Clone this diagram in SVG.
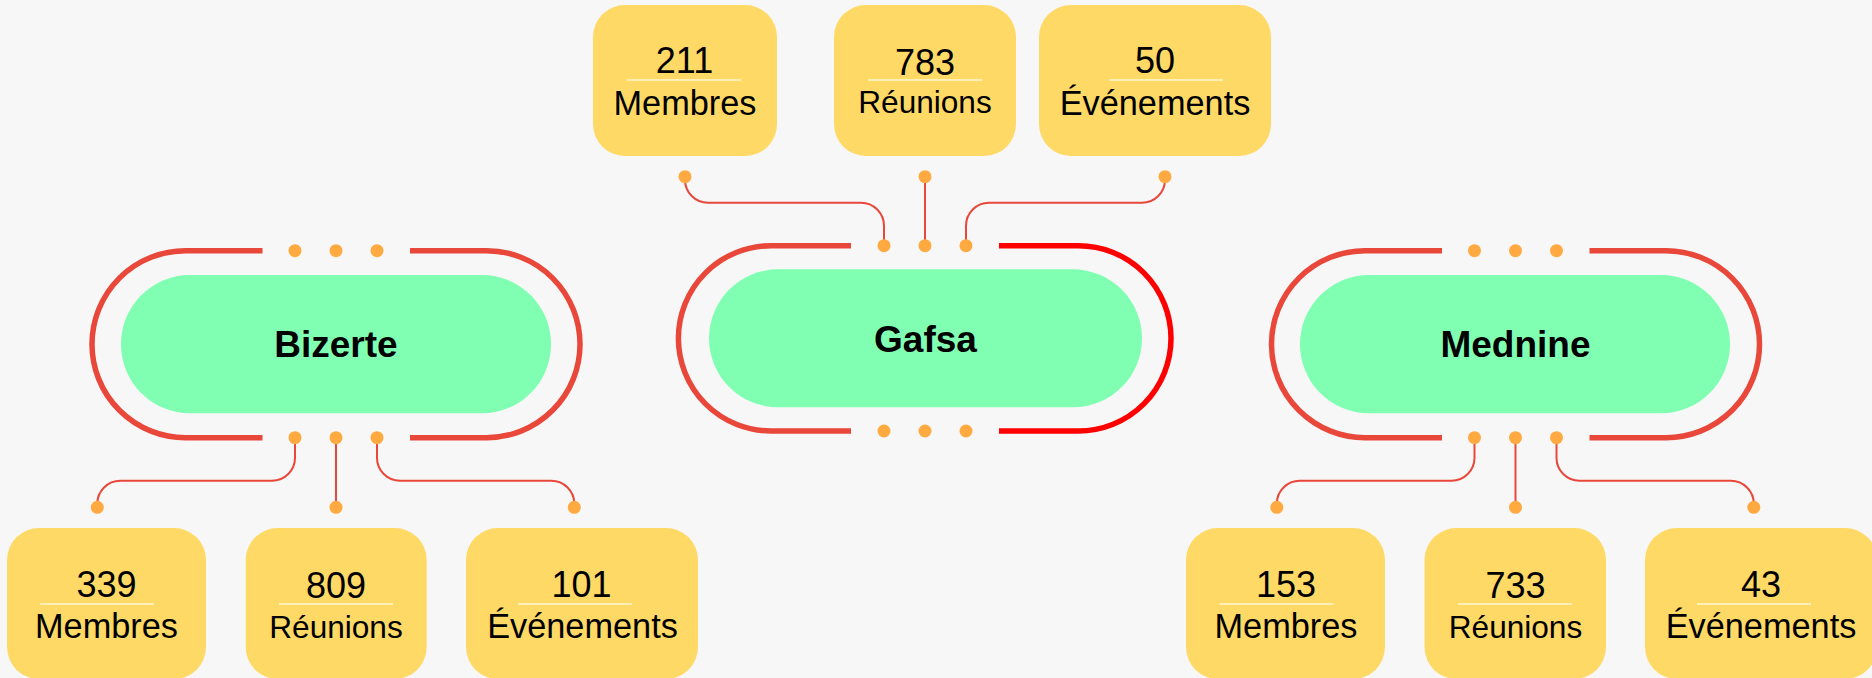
<svg xmlns="http://www.w3.org/2000/svg" width="1872" height="678" viewBox="0 0 1872 678">
<defs>
<style>
.bg{fill:#f7f7f7}
.track{fill:none;stroke:#e8473a;stroke-width:5.5;stroke-linecap:butt}
.track-hot{fill:none;stroke:#ff0000;stroke-width:5.5;stroke-linecap:butt}
.pill{fill:#80ffb3}
.dot{fill:#ffaa40}
.conn{fill:none;stroke:#e8473a;stroke-width:2}
.box{fill:#ffd966}
.sep{stroke:#fff0b8;stroke-width:2}
.city{font-family:"Liberation Sans",Arial,sans-serif;font-weight:bold;font-size:37px;fill:#000;text-anchor:middle}
.num{font-family:"Liberation Sans",Arial,sans-serif;font-size:36px;fill:#000;text-anchor:middle}
.lbl{font-family:"Liberation Sans",Arial,sans-serif;font-size:34.3px;fill:#000;text-anchor:middle}
.lbl-r{font-family:"Liberation Sans",Arial,sans-serif;font-size:31.6px;fill:#000;text-anchor:middle}
</style>
</defs>
<rect class="bg" x="0" y="0" width="1872" height="678"/>

<g id="connectors">
  <path class="conn" d="M685,176.7 V179.7 A23 23 0 0 0 708,202.7 H861 A23 23 0 0 1 884,225.7 V245.7"/>
  <path class="conn" d="M925,176.7 V245.7"/>
  <path class="conn" d="M966,245.7 V225.7 A23 23 0 0 1 989,202.7 H1142 A23 23 0 0 0 1165,179.7 V176.7"/>
  <path class="conn" d="M295,437.7 V457.7 A23 23 0 0 1 272,480.7 H120.3 A23 23 0 0 0 97.3,503.7 V507.3"/>
  <path class="conn" d="M336,437.7 V507.3"/>
  <path class="conn" d="M377,437.7 V457.7 A23 23 0 0 0 400,480.7 H551.3 A23 23 0 0 1 574.3,503.7 V507.3"/>
  <path class="conn" d="M1474.5,437.7 V457.7 A23 23 0 0 1 1451.5,480.7 H1299.8 A23 23 0 0 0 1276.8,503.7 V507.3"/>
  <path class="conn" d="M1515.5,437.7 V507.3"/>
  <path class="conn" d="M1556.5,437.7 V457.7 A23 23 0 0 0 1579.5,480.7 H1730.8 A23 23 0 0 1 1753.8,503.7 V507.3"/>
</g>

<g id="node-bizerte">
  <path class="track" d="M262.5,250.7 H185.5 A93.5 93.5 0 0 0 185.5,437.7 H262.5"/>
  <path class="track" d="M410,250.7 H486.5 A93.5 93.5 0 0 1 486.5,437.7 H410"/>
  <rect class="pill" x="121" y="275" width="430" height="138.3" rx="69" ry="69"/>
  <circle class="dot" cx="295" cy="250.7" r="6.5"/>
  <circle class="dot" cx="336" cy="250.7" r="6.5"/>
  <circle class="dot" cx="377" cy="250.7" r="6.5"/>
  <circle class="dot" cx="295" cy="437.7" r="6.5"/>
  <circle class="dot" cx="336" cy="437.7" r="6.5"/>
  <circle class="dot" cx="377" cy="437.7" r="6.5"/>
  <text class="city" x="336" y="357.3">Bizerte</text>
</g>

<g id="node-gafsa">
  <path class="track" d="M851,245.7 H771 A92.65 92.65 0 0 0 771,431 H851"/>
  <path class="track-hot" d="M999,245.7 H1078.4 A92.65 92.65 0 0 1 1078.4,431 H999"/>
  <rect class="pill" x="709" y="269.3" width="433" height="138" rx="69" ry="69"/>
  <circle class="dot" cx="884" cy="245.7" r="6.5"/>
  <circle class="dot" cx="925" cy="245.7" r="6.5"/>
  <circle class="dot" cx="966" cy="245.7" r="6.5"/>
  <circle class="dot" cx="884" cy="431" r="6.5"/>
  <circle class="dot" cx="925" cy="431" r="6.5"/>
  <circle class="dot" cx="966" cy="431" r="6.5"/>
  <text class="city" x="925.5" y="351.7">Gafsa</text>
</g>

<g id="node-mednine">
  <path class="track" d="M1442,250.7 H1365 A93.5 93.5 0 0 0 1365,437.7 H1442"/>
  <path class="track" d="M1589.5,250.7 H1666 A93.5 93.5 0 0 1 1666,437.7 H1589.5"/>
  <rect class="pill" x="1300" y="275" width="430" height="138.3" rx="69" ry="69"/>
  <circle class="dot" cx="1474.5" cy="250.7" r="6.5"/>
  <circle class="dot" cx="1515.5" cy="250.7" r="6.5"/>
  <circle class="dot" cx="1556.5" cy="250.7" r="6.5"/>
  <circle class="dot" cx="1474.5" cy="437.7" r="6.5"/>
  <circle class="dot" cx="1515.5" cy="437.7" r="6.5"/>
  <circle class="dot" cx="1556.5" cy="437.7" r="6.5"/>
  <text class="city" x="1515.5" y="357.3">Mednine</text>
</g>

<g id="gafsa-membres">
  <rect class="box" x="593" y="5" width="184" height="151" rx="32" ry="32"/>
  <circle class="dot" cx="685" cy="176.7" r="6.5"/>
  <text class="num" x="684.5" y="73">211</text>
  <line class="sep" x1="627" y1="80" x2="741" y2="80"/>
  <text class="lbl" x="685" y="115">Membres</text>
</g>
<g id="gafsa-reunions">
  <rect class="box" x="834" y="5" width="182" height="151" rx="32" ry="32"/>
  <circle class="dot" cx="925" cy="176.7" r="6.5"/>
  <text class="num" x="925" y="75">783</text>
  <line class="sep" x1="868" y1="80" x2="982" y2="80"/>
  <text class="lbl-r" x="925" y="113.3">Réunions</text>
</g>
<g id="gafsa-evenements">
  <rect class="box" x="1039" y="5" width="232" height="151" rx="32" ry="32"/>
  <circle class="dot" cx="1165" cy="176.7" r="6.5"/>
  <text class="num" x="1155" y="73">50</text>
  <line class="sep" x1="1109" y1="80" x2="1223" y2="80"/>
  <text class="lbl" x="1155" y="115">Événements</text>
</g>

<g id="bizerte-membres">
  <rect class="box" x="7" y="528" width="199" height="151" rx="32" ry="32"/>
  <circle class="dot" cx="97.3" cy="507.3" r="6.5"/>
  <text class="num" x="106.5" y="597">339</text>
  <line class="sep" x1="40" y1="604" x2="154" y2="604"/>
  <text class="lbl" x="106.5" y="638.3">Membres</text>
</g>
<g id="bizerte-reunions">
  <rect class="box" x="245.7" y="528" width="181" height="151" rx="32" ry="32"/>
  <circle class="dot" cx="336" cy="507.3" r="6.5"/>
  <text class="num" x="336" y="598">809</text>
  <line class="sep" x1="279" y1="604" x2="393" y2="604"/>
  <text class="lbl-r" x="336" y="638.3">Réunions</text>
</g>
<g id="bizerte-evenements">
  <rect class="box" x="466" y="528" width="232" height="151" rx="32" ry="32"/>
  <circle class="dot" cx="574.3" cy="507.3" r="6.5"/>
  <text class="num" x="581.5" y="597">101</text>
  <line class="sep" x1="518" y1="604" x2="632" y2="604"/>
  <text class="lbl" x="582.5" y="638.3">Événements</text>
</g>

<g id="mednine-membres">
  <rect class="box" x="1186" y="528" width="199" height="151" rx="32" ry="32"/>
  <circle class="dot" cx="1276.8" cy="507.3" r="6.5"/>
  <text class="num" x="1286" y="597">153</text>
  <line class="sep" x1="1219.5" y1="604" x2="1333.5" y2="604"/>
  <text class="lbl" x="1286" y="638.3">Membres</text>
</g>
<g id="mednine-reunions">
  <rect class="box" x="1424.5" y="528" width="181.5" height="151" rx="32" ry="32"/>
  <circle class="dot" cx="1515.5" cy="507.3" r="6.5"/>
  <text class="num" x="1515.5" y="598">733</text>
  <line class="sep" x1="1458" y1="604" x2="1572" y2="604"/>
  <text class="lbl-r" x="1515.5" y="638.3">Réunions</text>
</g>
<g id="mednine-evenements">
  <rect class="box" x="1645" y="528" width="232" height="151" rx="32" ry="32"/>
  <circle class="dot" cx="1753.8" cy="507.3" r="6.5"/>
  <text class="num" x="1761" y="597">43</text>
  <line class="sep" x1="1697" y1="604" x2="1811" y2="604"/>
  <text class="lbl" x="1761" y="638.3">Événements</text>
</g>
</svg>
